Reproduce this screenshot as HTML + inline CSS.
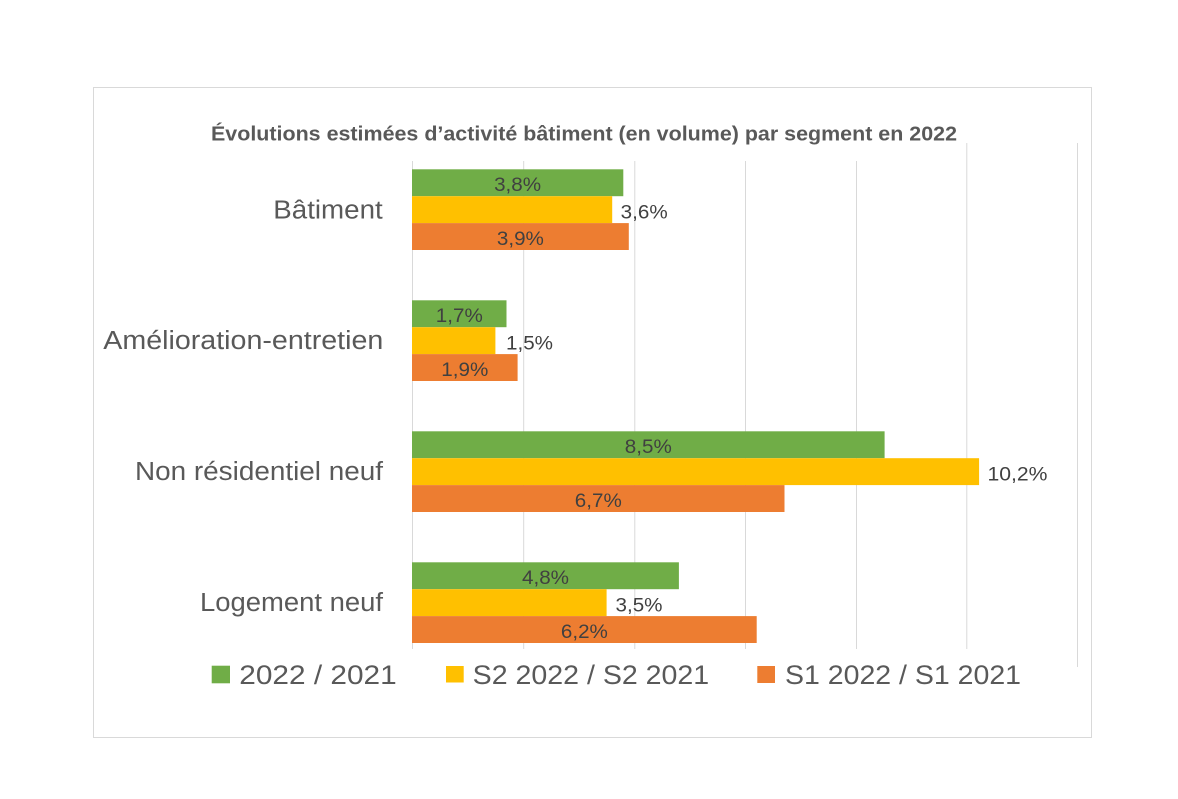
<!DOCTYPE html>
<html>
<head>
<meta charset="utf-8">
<style>
  html,body{margin:0;padding:0;background:#fff;}
  svg{display:block;}
  text{font-family:"Liberation Sans", Arial, sans-serif;}
</style>
</head>
<body>
<svg width="1178" height="799" viewBox="0 0 1178 799" xmlns="http://www.w3.org/2000/svg">
  <rect x="0" y="0" width="1178" height="799" fill="#ffffff"/>
  <!-- chart border -->
  <rect x="93.5" y="87.5" width="998" height="650" fill="#ffffff" stroke="#D9D9D9" stroke-width="1"/>

  <!-- gridlines -->
  <g stroke="#D9D9D9" stroke-width="1">
    <line x1="412.5" y1="161" x2="412.5" y2="649"/>
    <line x1="523.7" y1="161" x2="523.7" y2="649"/>
    <line x1="634.8" y1="161" x2="634.8" y2="649"/>
    <line x1="745.5" y1="161" x2="745.5" y2="649"/>
    <line x1="856.5" y1="161" x2="856.5" y2="649"/>
    <line x1="966.8" y1="143" x2="966.8" y2="649"/>
    <line x1="1077.5" y1="143" x2="1077.5" y2="667"/>
  </g>

  <!-- title -->
  <text x="211" y="140.5" font-size="20" font-weight="bold" fill="#595959" textLength="746" lengthAdjust="spacingAndGlyphs">Évolutions estimées d’activité bâtiment (en volume) par segment en 2022</text>

  <!-- category labels -->
  <g font-size="25.5" fill="#595959">
    <text x="273.3" y="218.5" textLength="109.4" lengthAdjust="spacingAndGlyphs">Bâtiment</text>
    <text x="103.3" y="348.8" textLength="280" lengthAdjust="spacingAndGlyphs">Amélioration-entretien</text>
    <text x="135" y="480.2" textLength="248" lengthAdjust="spacingAndGlyphs">Non résidentiel neuf</text>
    <text x="200" y="611.2" textLength="183" lengthAdjust="spacingAndGlyphs">Logement neuf</text>
  </g>

  <!-- bars: Bâtiment -->
  <rect x="412" y="169.3" width="211.3" height="26.9" fill="#70AD47"/>
  <rect x="412" y="196.2" width="200.2" height="26.9" fill="#FFC000"/>
  <rect x="412" y="223.1" width="216.8" height="26.9" fill="#ED7D31"/>
  <!-- Amélioration -->
  <rect x="412" y="300.3" width="94.5" height="26.9" fill="#70AD47"/>
  <rect x="412" y="327.2" width="83.4" height="26.9" fill="#FFC000"/>
  <rect x="412" y="354.1" width="105.6" height="26.9" fill="#ED7D31"/>
  <!-- Non résidentiel -->
  <rect x="412" y="431.3" width="472.6" height="26.9" fill="#70AD47"/>
  <rect x="412" y="458.2" width="567.1" height="26.9" fill="#FFC000"/>
  <rect x="412" y="485.1" width="372.5" height="26.9" fill="#ED7D31"/>
  <!-- Logement -->
  <rect x="412" y="562.3" width="266.9" height="26.9" fill="#70AD47"/>
  <rect x="412" y="589.2" width="194.6" height="26.9" fill="#FFC000"/>
  <rect x="412" y="616.1" width="344.7" height="26.9" fill="#ED7D31"/>

  <!-- data labels -->
  <g font-size="19" fill="#404040">
    <text x="494.1" y="191.2" textLength="47" lengthAdjust="spacingAndGlyphs">3,8%</text>
    <text x="620.7" y="218.4" textLength="47" lengthAdjust="spacingAndGlyphs">3,6%</text>
    <text x="496.9" y="245.2" textLength="47" lengthAdjust="spacingAndGlyphs">3,9%</text>

    <text x="435.8" y="322.2" textLength="47" lengthAdjust="spacingAndGlyphs">1,7%</text>
    <text x="506" y="349.4" textLength="47" lengthAdjust="spacingAndGlyphs">1,5%</text>
    <text x="441.3" y="376.2" textLength="47" lengthAdjust="spacingAndGlyphs">1,9%</text>

    <text x="624.8" y="453.2" textLength="47" lengthAdjust="spacingAndGlyphs">8,5%</text>
    <text x="987.5" y="480.4" textLength="60" lengthAdjust="spacingAndGlyphs">10,2%</text>
    <text x="574.8" y="507.2" textLength="47" lengthAdjust="spacingAndGlyphs">6,7%</text>

    <text x="522" y="584.2" textLength="47" lengthAdjust="spacingAndGlyphs">4,8%</text>
    <text x="615.5" y="611.4" textLength="47" lengthAdjust="spacingAndGlyphs">3,5%</text>
    <text x="560.9" y="638.2" textLength="47" lengthAdjust="spacingAndGlyphs">6,2%</text>
  </g>

  <!-- legend -->
  <rect x="211.7" y="665.7" width="18.3" height="17.6" fill="#70AD47"/>
  <rect x="446" y="666" width="17.7" height="16.5" fill="#FFC000"/>
  <rect x="757.3" y="666" width="17.7" height="17" fill="#ED7D31"/>
  <g font-size="27" fill="#595959">
    <text x="239.3" y="684" textLength="157.4" lengthAdjust="spacingAndGlyphs">2022 / 2021</text>
    <text x="472.7" y="684" textLength="236.5" lengthAdjust="spacingAndGlyphs">S2 2022 / S2 2021</text>
    <text x="785" y="684" textLength="236" lengthAdjust="spacingAndGlyphs">S1 2022 / S1 2021</text>
  </g>
</svg>
</body>
</html>
